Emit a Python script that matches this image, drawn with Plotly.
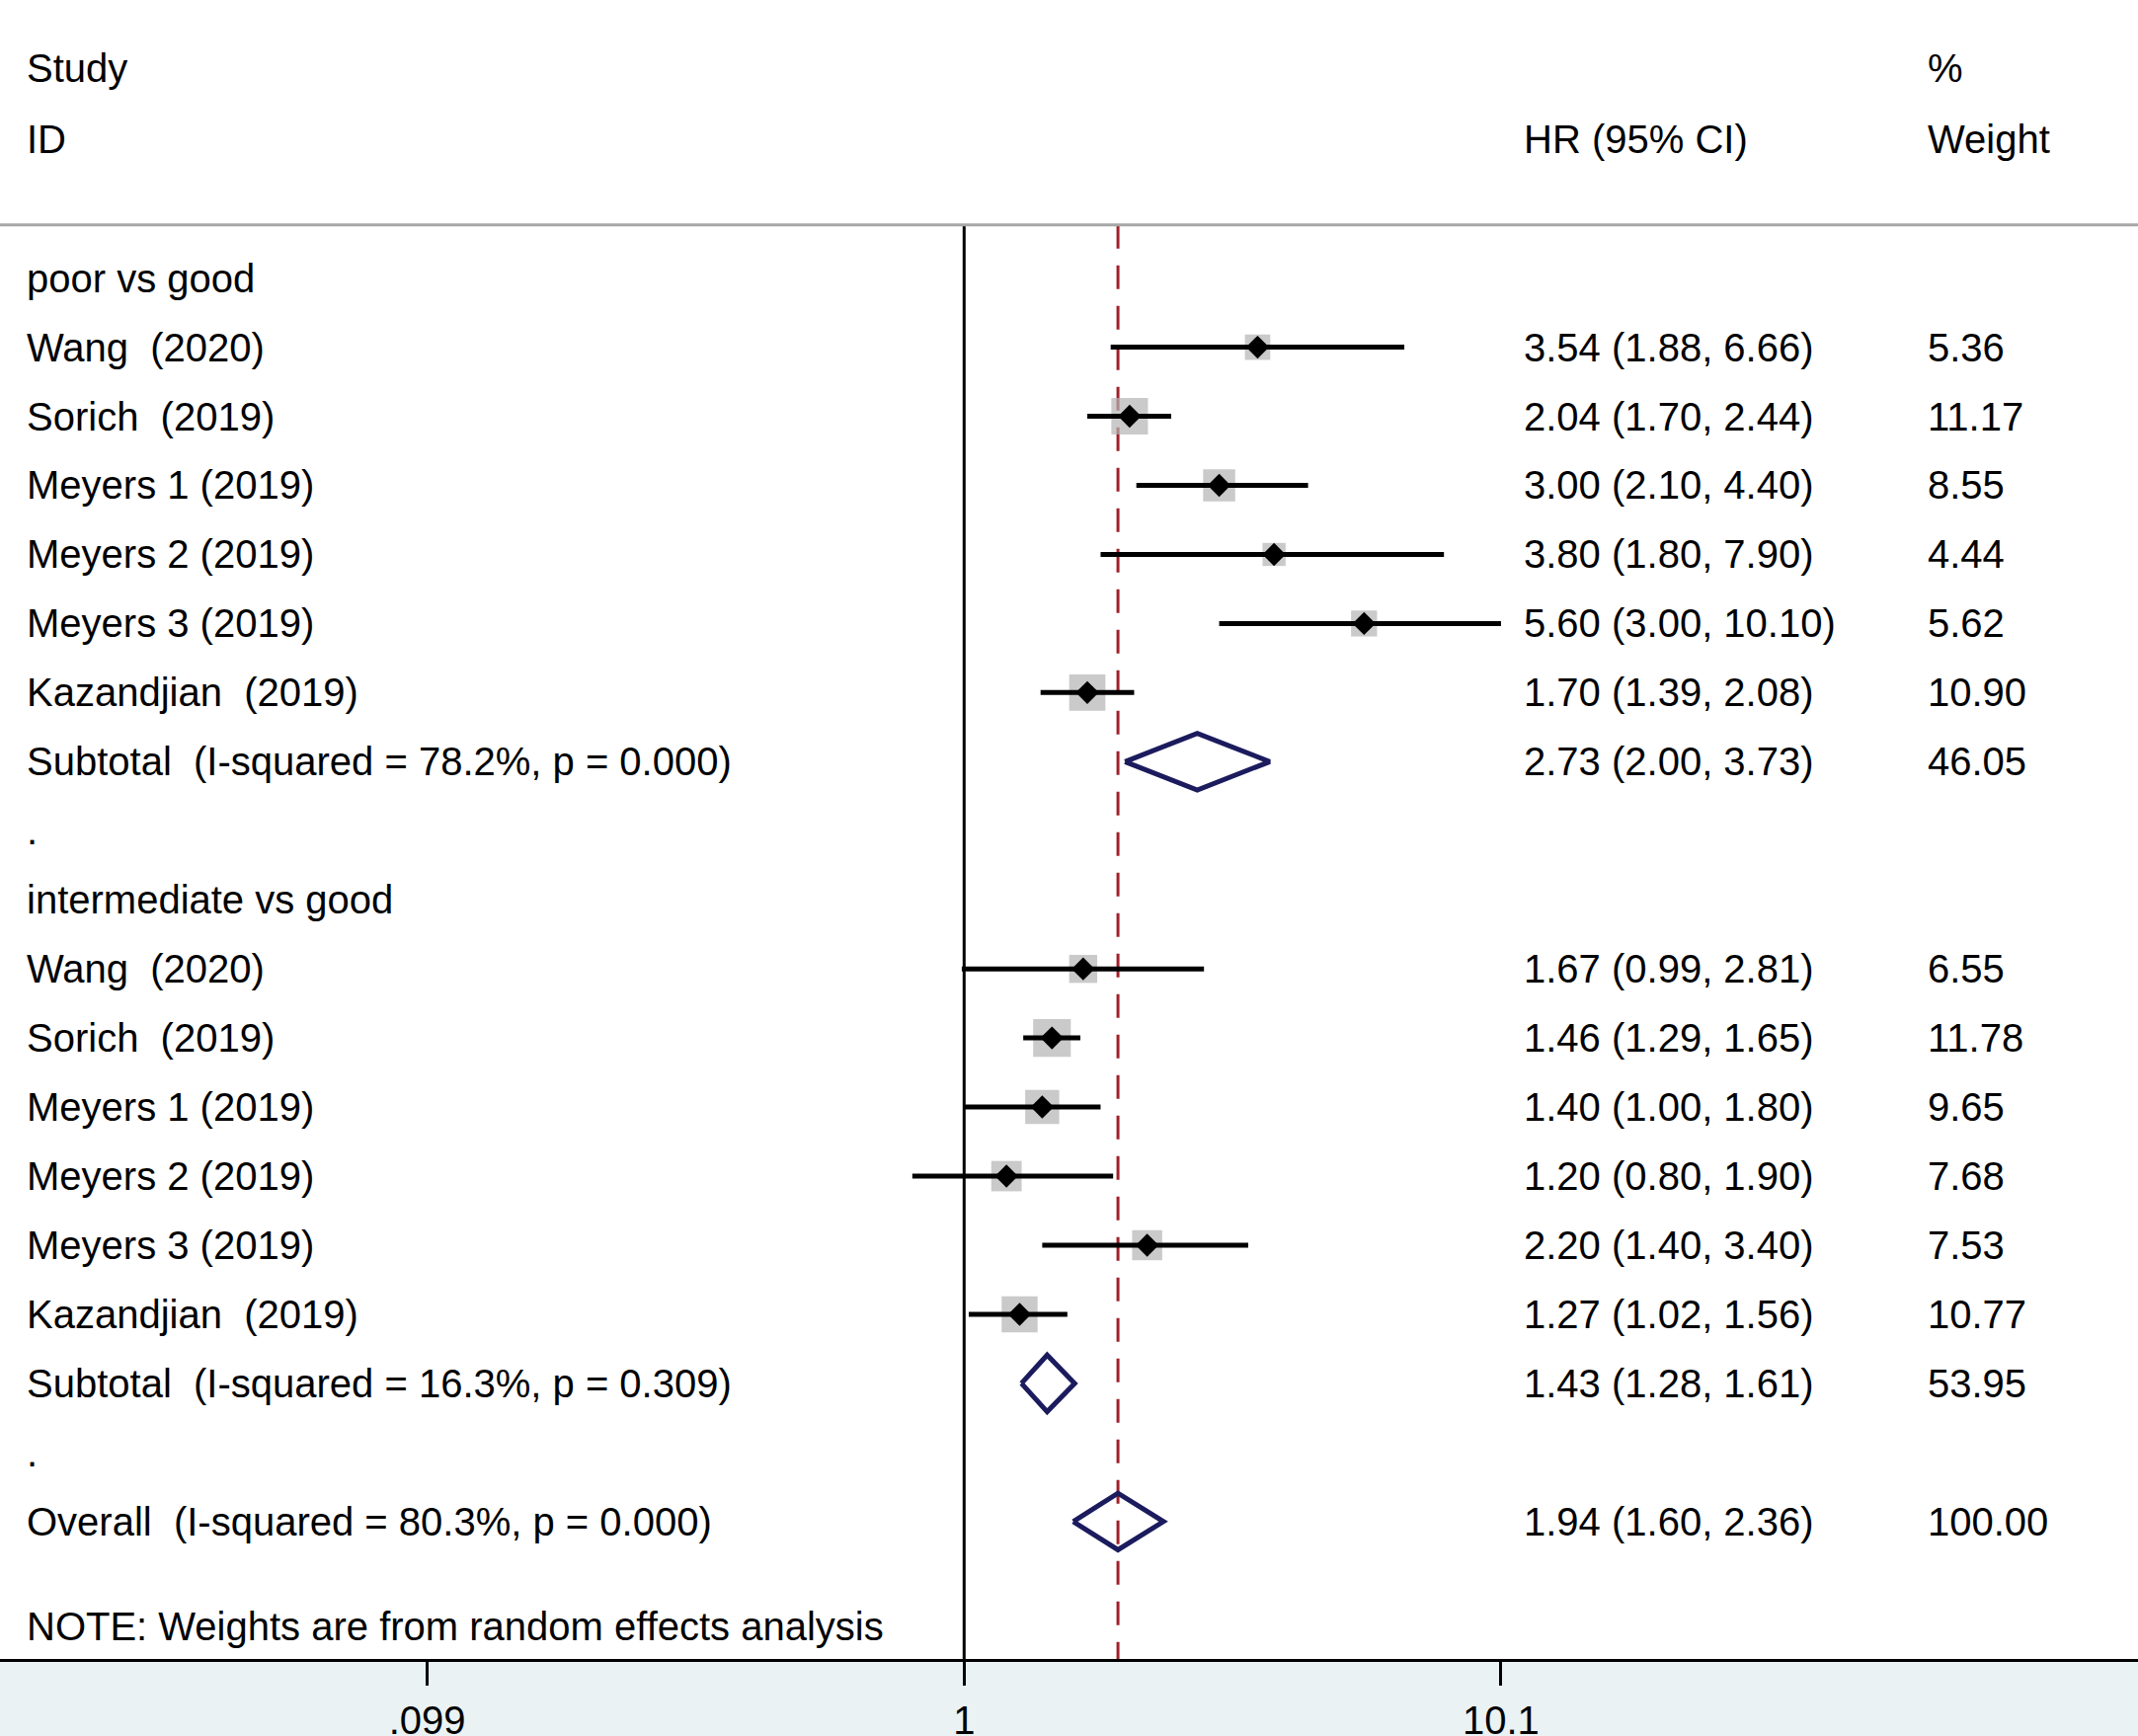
import plotly.graph_objects as go

# Study level data
study_names = ["Wang\u00a0 (2020)", "Sorich\u00a0 (2019)", "Meyers 1 (2019)",
               "Meyers 2 (2019)", "Meyers 3 (2019)", "Kazandjian\u00a0 (2019)"]

poor_hr = [3.54, 2.04, 3.00, 3.80, 5.60, 1.70]
poor_lo = [1.88, 1.70, 2.10, 1.80, 3.00, 1.39]
poor_hi = [6.66, 2.44, 4.40, 7.90, 10.10, 2.08]
poor_wt = [5.36, 11.17, 8.55, 4.44, 5.62, 10.90]

inter_hr = [1.67, 1.46, 1.40, 1.20, 2.20, 1.27]
inter_lo = [0.99, 1.29, 1.00, 0.80, 1.40, 1.02]
inter_hi = [2.81, 1.65, 1.80, 1.90, 3.40, 1.56]
inter_wt = [6.55, 11.78, 9.65, 7.68, 7.53, 10.77]

# pooled estimates: poor subtotal, intermediate subtotal, overall
pooled_labels = ["Subtotal\u00a0 (I-squared = 78.2%, p = 0.000)",
                 "Subtotal\u00a0 (I-squared = 16.3%, p = 0.309)",
                 "Overall\u00a0 (I-squared = 80.3%, p = 0.000)"]
pooled_hr = [2.73, 1.43, 1.94]
pooled_lo = [2.00, 1.28, 1.60]
pooled_hi = [3.73, 1.61, 2.36]
pooled_wt = [46.05, 53.95, 100.00]

group_labels = ["poor vs good", "intermediate vs good"]
tick_vals = [0.099, 1, 10.1]
tick_text = [".099", "1", "10.1"]

# row layout (one row per line of the table)
poor_rows = [1, 2, 3, 4, 5, 6]
inter_rows = [10, 11, 12, 13, 14, 15]
pooled_rows = [7, 16, 18]
group_rows = [0, 9]
dot_rows = [8, 17]

FONT = "Liberation Sans, Arial, sans-serif"
FS = 40
W, H = 2165, 1758
header_y = -0.77

hr = poor_hr + inter_hr
lo = poor_lo + inter_lo
hi = poor_hi + inter_hi
wt = poor_wt + inter_wt
rows = poor_rows + inter_rows

fig = go.Figure()

# weight boxes
fig.add_trace(go.Scatter(
    x=hr, y=rows, mode="markers",
    marker=dict(symbol="square", size=[11.1 * w ** 0.5 for w in wt],
                color="#B3B3B3", line=dict(width=0)),
    hoverinfo="skip", showlegend=False,
))

# confidence intervals
ci_x, ci_y = [], []
for l, h, r in zip(lo, hi, rows):
    ci_x += [l, h, None]
    ci_y += [r, r, None]
fig.add_trace(go.Scatter(
    x=ci_x, y=ci_y, mode="lines",
    line=dict(color="black", width=5),
    hoverinfo="skip", showlegend=False,
))

# point estimates
fig.add_trace(go.Scatter(
    x=hr, y=rows, mode="markers",
    marker=dict(symbol="diamond", size=18, color="black"),
    showlegend=False,
))

# pooled diamonds
half = 0.41
for est, l, h, r in zip(pooled_hr, pooled_lo, pooled_hi, pooled_rows):
    fig.add_trace(go.Scatter(
        x=[l, est, h, est, l], y=[r, r - half, r, r + half, r],
        mode="lines", line=dict(color="#1B1B5E", width=5),
        hoverinfo="skip", showlegend=False,
    ))

# text columns
def txt(x, y, s):
    fig.add_annotation(x=x, y=y, xref="paper", yref="y", text=s,
                       showarrow=False, xanchor="left", yanchor="middle",
                       font=dict(family=FONT, size=FS, color="black"))

XL, XHR, XW = 0.0115, 0.7118, 0.9005
txt(XL, -3.04, "Study")
txt(XL, -2.01, "ID")
txt(XHR, -2.01, "HR (95% CI)")
txt(XW, -3.04, "%")
txt(XW, -2.01, "Weight")

for g, r in zip(group_labels, group_rows):
    txt(XL, r, g)
for r in dot_rows:
    txt(XL, r, ".")

for names, hrs, los, his, wts, rs in [
        (study_names, poor_hr, poor_lo, poor_hi, poor_wt, poor_rows),
        (study_names, inter_hr, inter_lo, inter_hi, inter_wt, inter_rows),
        (pooled_labels, pooled_hr, pooled_lo, pooled_hi, pooled_wt, pooled_rows)]:
    for n, e, l, h, w, r in zip(names, hrs, los, his, wts, rs):
        txt(XL, r, n)
        txt(XHR, r, f"{e:.2f} ({l:.2f}, {h:.2f})")
        txt(XW, r, f"{w:.2f}")

txt(XL, 19.52, "NOTE: Weights are from random effects analysis")

y_bottom = 19.99
# header rule, null line, overall line
fig.add_shape(type="line", xref="paper", yref="y", x0=0, x1=1,
              y0=header_y, y1=header_y, line=dict(color="#A6A6A6", width=3))
fig.add_shape(type="line", xref="x", yref="y", x0=1, x1=1,
              y0=header_y, y1=y_bottom, line=dict(color="black", width=3),
              layer="below")
fig.add_shape(type="line", xref="x", yref="y", x0=pooled_hr[2], x1=pooled_hr[2],
              y0=header_y, y1=y_bottom,
              line=dict(color="#A0202A", width=3, dash="24px,17px"),
              layer="below")

fig.update_layout(
    width=W, height=H,
    margin=dict(l=0, r=0, t=0, b=78),
    plot_bgcolor="white",
    paper_bgcolor="#EAF2F3",
    font=dict(family=FONT, size=FS, color="black"),
)
fig.update_xaxes(
    type="log", range=[-1.8036, 2.196], automargin=False,
    tickvals=tick_vals, ticktext=tick_text,
    ticks="outside", ticklen=24, tickwidth=3, tickcolor="black",
    ticklabelstandoff=1,
    showline=True, linecolor="black", linewidth=3,
    showgrid=False, zeroline=False,
    tickfont=dict(family=FONT, size=FS, color="black"),
)
fig.update_yaxes(
    range=[y_bottom, -4.026], showticklabels=False, showgrid=False,
    zeroline=False, showline=False, ticks="", automargin=False,
)

fig.write_html("out.html", config={"displayModeBar": False},
               post_script="document.body.style.margin='0';")
